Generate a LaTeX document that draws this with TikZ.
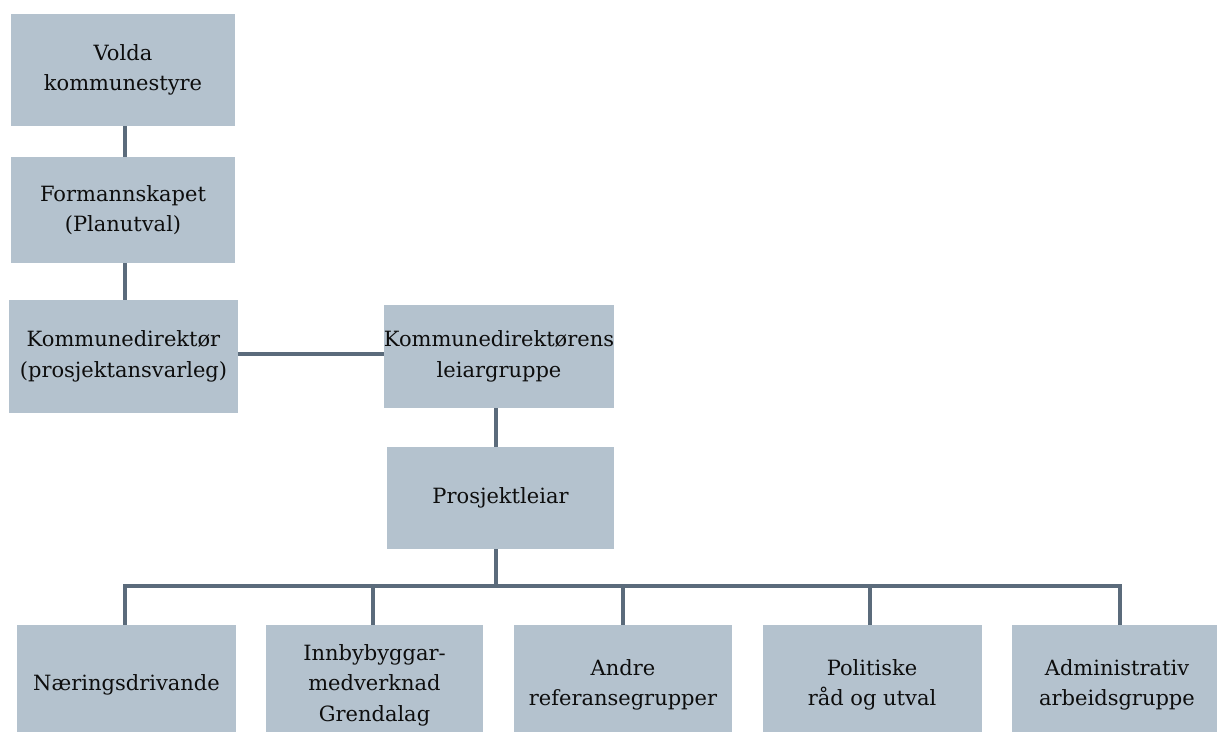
\documentclass[tikz,border=0pt]{standalone}
\usepackage{fontspec}
\setmainfont{DejaVu Serif}
\begin{document}
\begin{tikzpicture}[x=1pt,y=-1pt,
  box/.style={fill=boxfill,draw=none,inner sep=0pt,align=center,
    font=\fontsize{21}{30.5}\selectfont,text=black!95},
  conn/.style={draw=linecol,line width=3.2pt}]
\definecolor{boxfill}{HTML}{B4C2CE}
\definecolor{linecol}{HTML}{5B6B7B}
\useasboundingbox (0,0) rectangle (1217,731);
\clip (0,0) rectangle (1217,731);
\node[box,minimum width=224pt,minimum height=112pt] (v) at (123,70) {Volda\\kommunestyre};
\node[box,minimum width=224pt,minimum height=106pt] (f) at (123,210) {Formannskapet\\(Planutval)};
\node[box,minimum width=229pt,minimum height=113pt] (kd) at (123.5,356.5) {Kommunedirektør\\(prosjektansvarleg)};
\node[box,minimum width=228pt,minimum height=103pt] (kl) at (499,356.5) {Kommunedirektørens\\leiargruppe};
\node[box,minimum width=227pt,minimum height=102pt] (pl) at (500.5,498) {Prosjektleiar};
\node[box,minimum width=219pt,minimum height=120pt] (b1) at (126.5,685) {Næringsdrivande};
\node[box,minimum width=217pt,minimum height=120pt] (b2) at (374.5,685) {Innbybyggar-\\medverknad\\Grendalag};
\node[box,minimum width=218pt,minimum height=120pt] (b3) at (623,685) {Andre\\referansegrupper};
\node[box,minimum width=219pt,minimum height=120pt] (b4) at (872,685) {Politiske\\råd og utval};
\node[box,minimum width=210pt,minimum height=120pt] (b5) at (1117,685) {Administrativ\\arbeidsgruppe};
\coordinate (bus) at (496,586);
\draw[conn] (v.south -| 125,0) -- (f.north -| 125,0);
\draw[conn] (f.south -| 125,0) -- (kd.north -| 125,0);
\draw[conn] (kd.east |- 0,354) -- (kl.west |- 0,354);
\draw[conn] (kl.south -| 496,0) -- (pl.north -| 496,0);
\draw[conn] (pl.south -| bus) -- (bus);
\draw[conn] (b1.north -| 125,0) -- (125,586) -- (1120,586) -- (b5.north -| 1120,0);
\draw[conn] (b2.north -| 373,0) -- (373,586);
\draw[conn] (b3.north -| 623,0) -- (623,586);
\draw[conn] (b4.north -| 870,0) -- (870,586);
\end{tikzpicture}
\end{document}
